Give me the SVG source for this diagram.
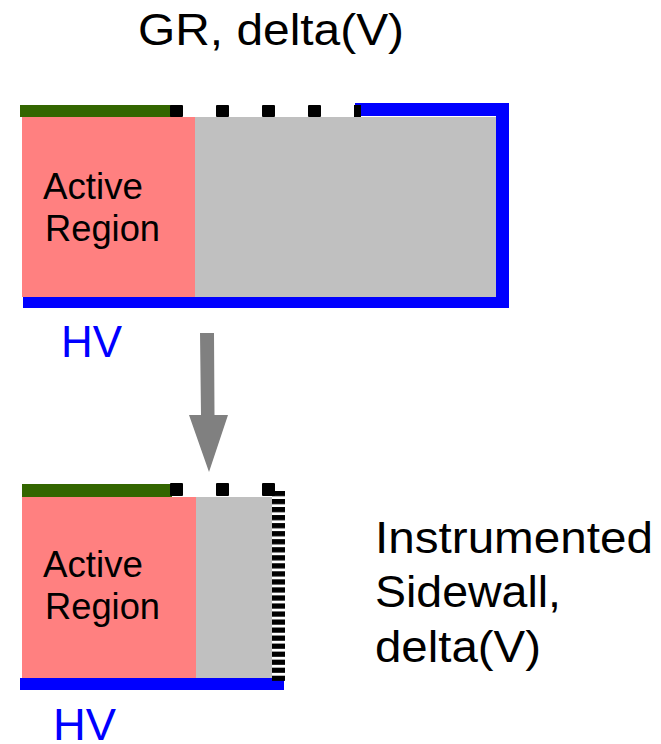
<svg xmlns="http://www.w3.org/2000/svg" width="661" height="744" viewBox="0 0 661 744">
<style>
text{font-family:"Liberation Sans",Arial,sans-serif;fill:#000}
.big{font-size:44px}
.act{font-size:36px}
.hv{font-size:44px;fill:#0000ff}
.pink{fill:#ff8080}.gray{fill:#c0c0c0}.blue{fill:#0000ff}.green{fill:#336600}.blk{fill:#000}
</style>
<defs>
<pattern id="dash" x="272" y="491" width="13" height="8.03" patternUnits="userSpaceOnUse"><rect width="13" height="5.2" fill="#000"/></pattern>
</defs>
<text id="title" class="big" x="138" y="45" textLength="266" lengthAdjust="spacingAndGlyphs">GR, delta(V)</text>
<g id="top-detector">
<rect class="pink" x="22" y="117" width="173" height="180"/>
<rect class="gray" x="195" y="117" width="301" height="180"/>
<rect class="green" x="20" y="105" width="152" height="12"/>
<rect class="blk" x="170" y="105" width="13" height="12" rx="1"/>
<rect class="blk" x="216" y="105" width="13" height="12" rx="1"/>
<rect class="blk" x="262" y="105" width="13" height="12" rx="1"/>
<rect class="blk" x="308" y="105" width="13" height="12" rx="1"/>
<path class="blue" d="M355 103H509V308H23V297H496V116H355Z"/>
<rect class="blk" x="354" y="105" width="7" height="12"/>
<text class="act" x="43" y="199" textLength="100" lengthAdjust="spacingAndGlyphs">Active</text>
<text class="act" x="45" y="241" textLength="115" lengthAdjust="spacingAndGlyphs">Region</text>
</g>
<text id="hv-top" class="hv" x="61" y="357" textLength="61" lengthAdjust="spacingAndGlyphs">HV</text>
<g id="connectors"><path fill="#808080" d="M200 333H214L214.500 415H228L209 472L189 415H201Z"/></g>
<g id="bottom-detector">
<rect class="pink" x="22" y="497" width="174" height="181"/>
<rect class="gray" x="196" y="497" width="76" height="181"/>
<rect class="green" x="22" y="484" width="150" height="13"/>
<rect class="blk" x="170" y="483" width="13" height="13" rx="1"/>
<rect class="blk" x="216" y="483" width="13" height="13" rx="1"/>
<rect class="blk" x="262" y="483" width="13" height="13" rx="1"/>
<rect class="blue" x="20" y="678" width="264" height="12"/>
<rect x="272" y="491" width="13" height="192" fill="url(#dash)"/>
<text class="act" x="43" y="577" textLength="100" lengthAdjust="spacingAndGlyphs">Active</text>
<text class="act" x="45" y="619" textLength="115" lengthAdjust="spacingAndGlyphs">Region</text>
</g>
<text id="hv-bottom" class="hv" x="53" y="740" textLength="63" lengthAdjust="spacingAndGlyphs">HV</text>
<g id="sidewall-label">
<text class="big" x="375" y="553" textLength="278" lengthAdjust="spacingAndGlyphs">Instrumented</text>
<text class="big" x="375" y="607" textLength="186" lengthAdjust="spacingAndGlyphs">Sidewall,</text>
<text class="big" x="375" y="662" textLength="166" lengthAdjust="spacingAndGlyphs">delta(V)</text>
</g>
</svg>
